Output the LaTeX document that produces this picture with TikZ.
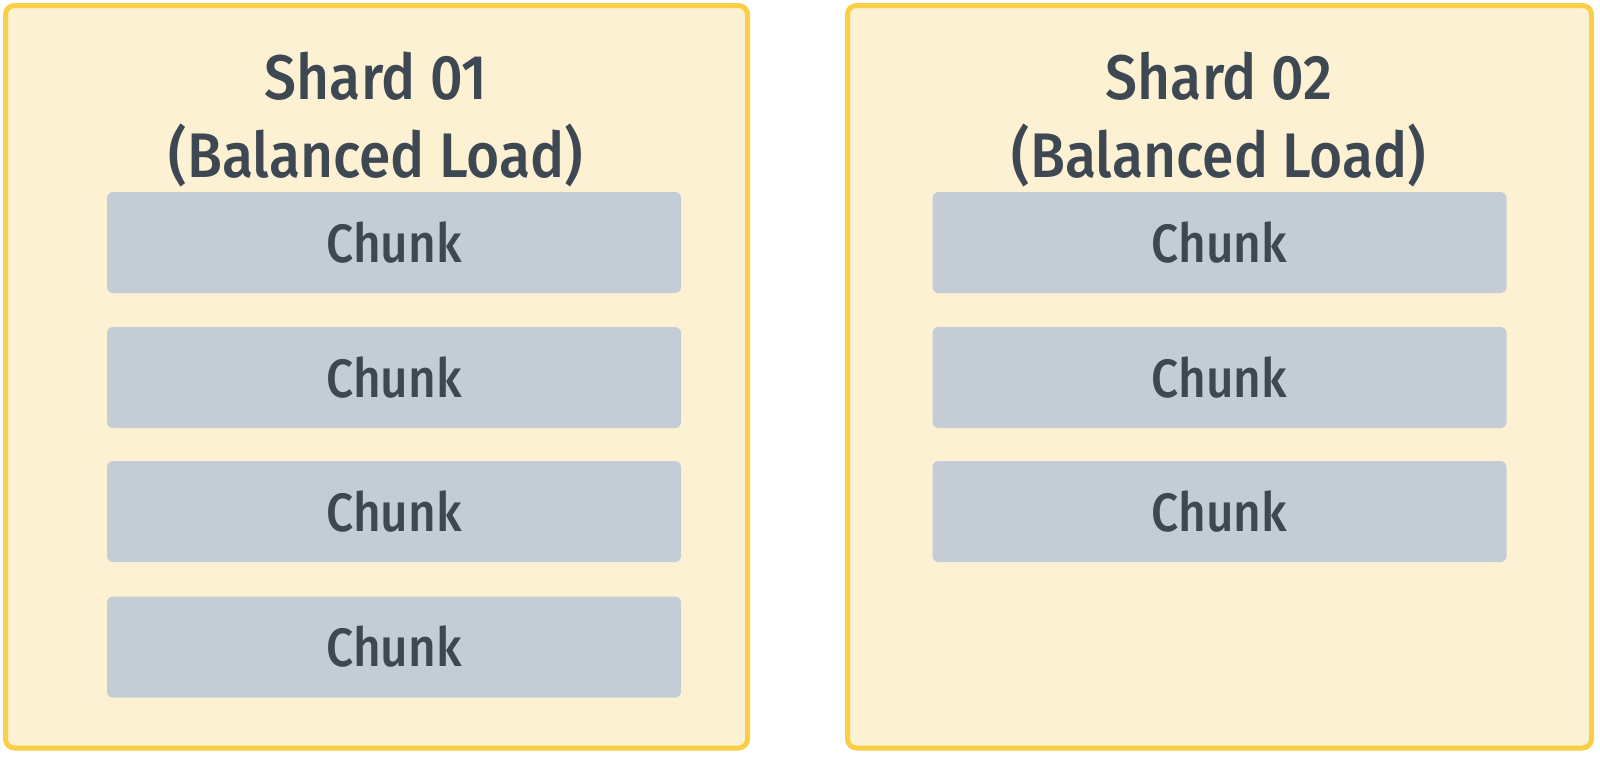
\documentclass[tikz,border=0pt]{standalone}
\usepackage{fontspec}
\setmainfont[FakeStretch=0.885,UprightFont=* Medium]{Fira Sans}
\newfontfamily\titlefont[FakeStretch=0.905,UprightFont=* Medium]{Fira Sans}
\definecolor{shardfill}{HTML}{FDF1D4}
\definecolor{sharddraw}{HTML}{FBCF45}
\definecolor{chunkfill}{HTML}{C4CDD6}
\definecolor{txt}{HTML}{3D4852}
\tikzset{
  shardbox/.style={draw=sharddraw, fill=shardfill, line width=5pt, rounded corners=9pt},
  chunkbox/.style={fill=chunkfill, rounded corners=6pt, minimum width=574pt, minimum height=101pt, inner sep=0pt, text=txt, font=\fontsize{54}{66}\selectfont},
  titletext/.style={text=txt, font=\titlefont\fontsize{63}{76}\selectfont, anchor=base, inner sep=0pt},
}
\begin{document}
\begin{tikzpicture}[x=1pt,y=-1pt]
\useasboundingbox (0,0) rectangle (1600,758);
% shards
\draw[shardbox] (5.5,5.5) rectangle (747.5,748);
\draw[shardbox] (847.5,5.5) rectangle (1591.5,748);
\node[titletext] (t1) at (376,99) {Shard 01};
\node[titletext] (s1) at (376,177) {(Balanced Load)};
\node[titletext] (t2) at (1219,99) {Shard 02};
\node[titletext] (s2) at (1219,177) {(Balanced Load)};
% chunks shard 1
\node[chunkbox] (a1) at (394,242.5) {Chunk};
\node[chunkbox] (a2) at (394,377.5) {Chunk};
\node[chunkbox] (a3) at (394,511.5) {Chunk};
\node[chunkbox] (a4) at (394,647) {Chunk};
% chunks shard 2
\node[chunkbox] (b1) at (1219.5,242.5) {Chunk};
\node[chunkbox] (b2) at (1219.5,377.5) {Chunk};
\node[chunkbox] (b3) at (1219.5,511.5) {Chunk};
\end{tikzpicture}
\end{document}
